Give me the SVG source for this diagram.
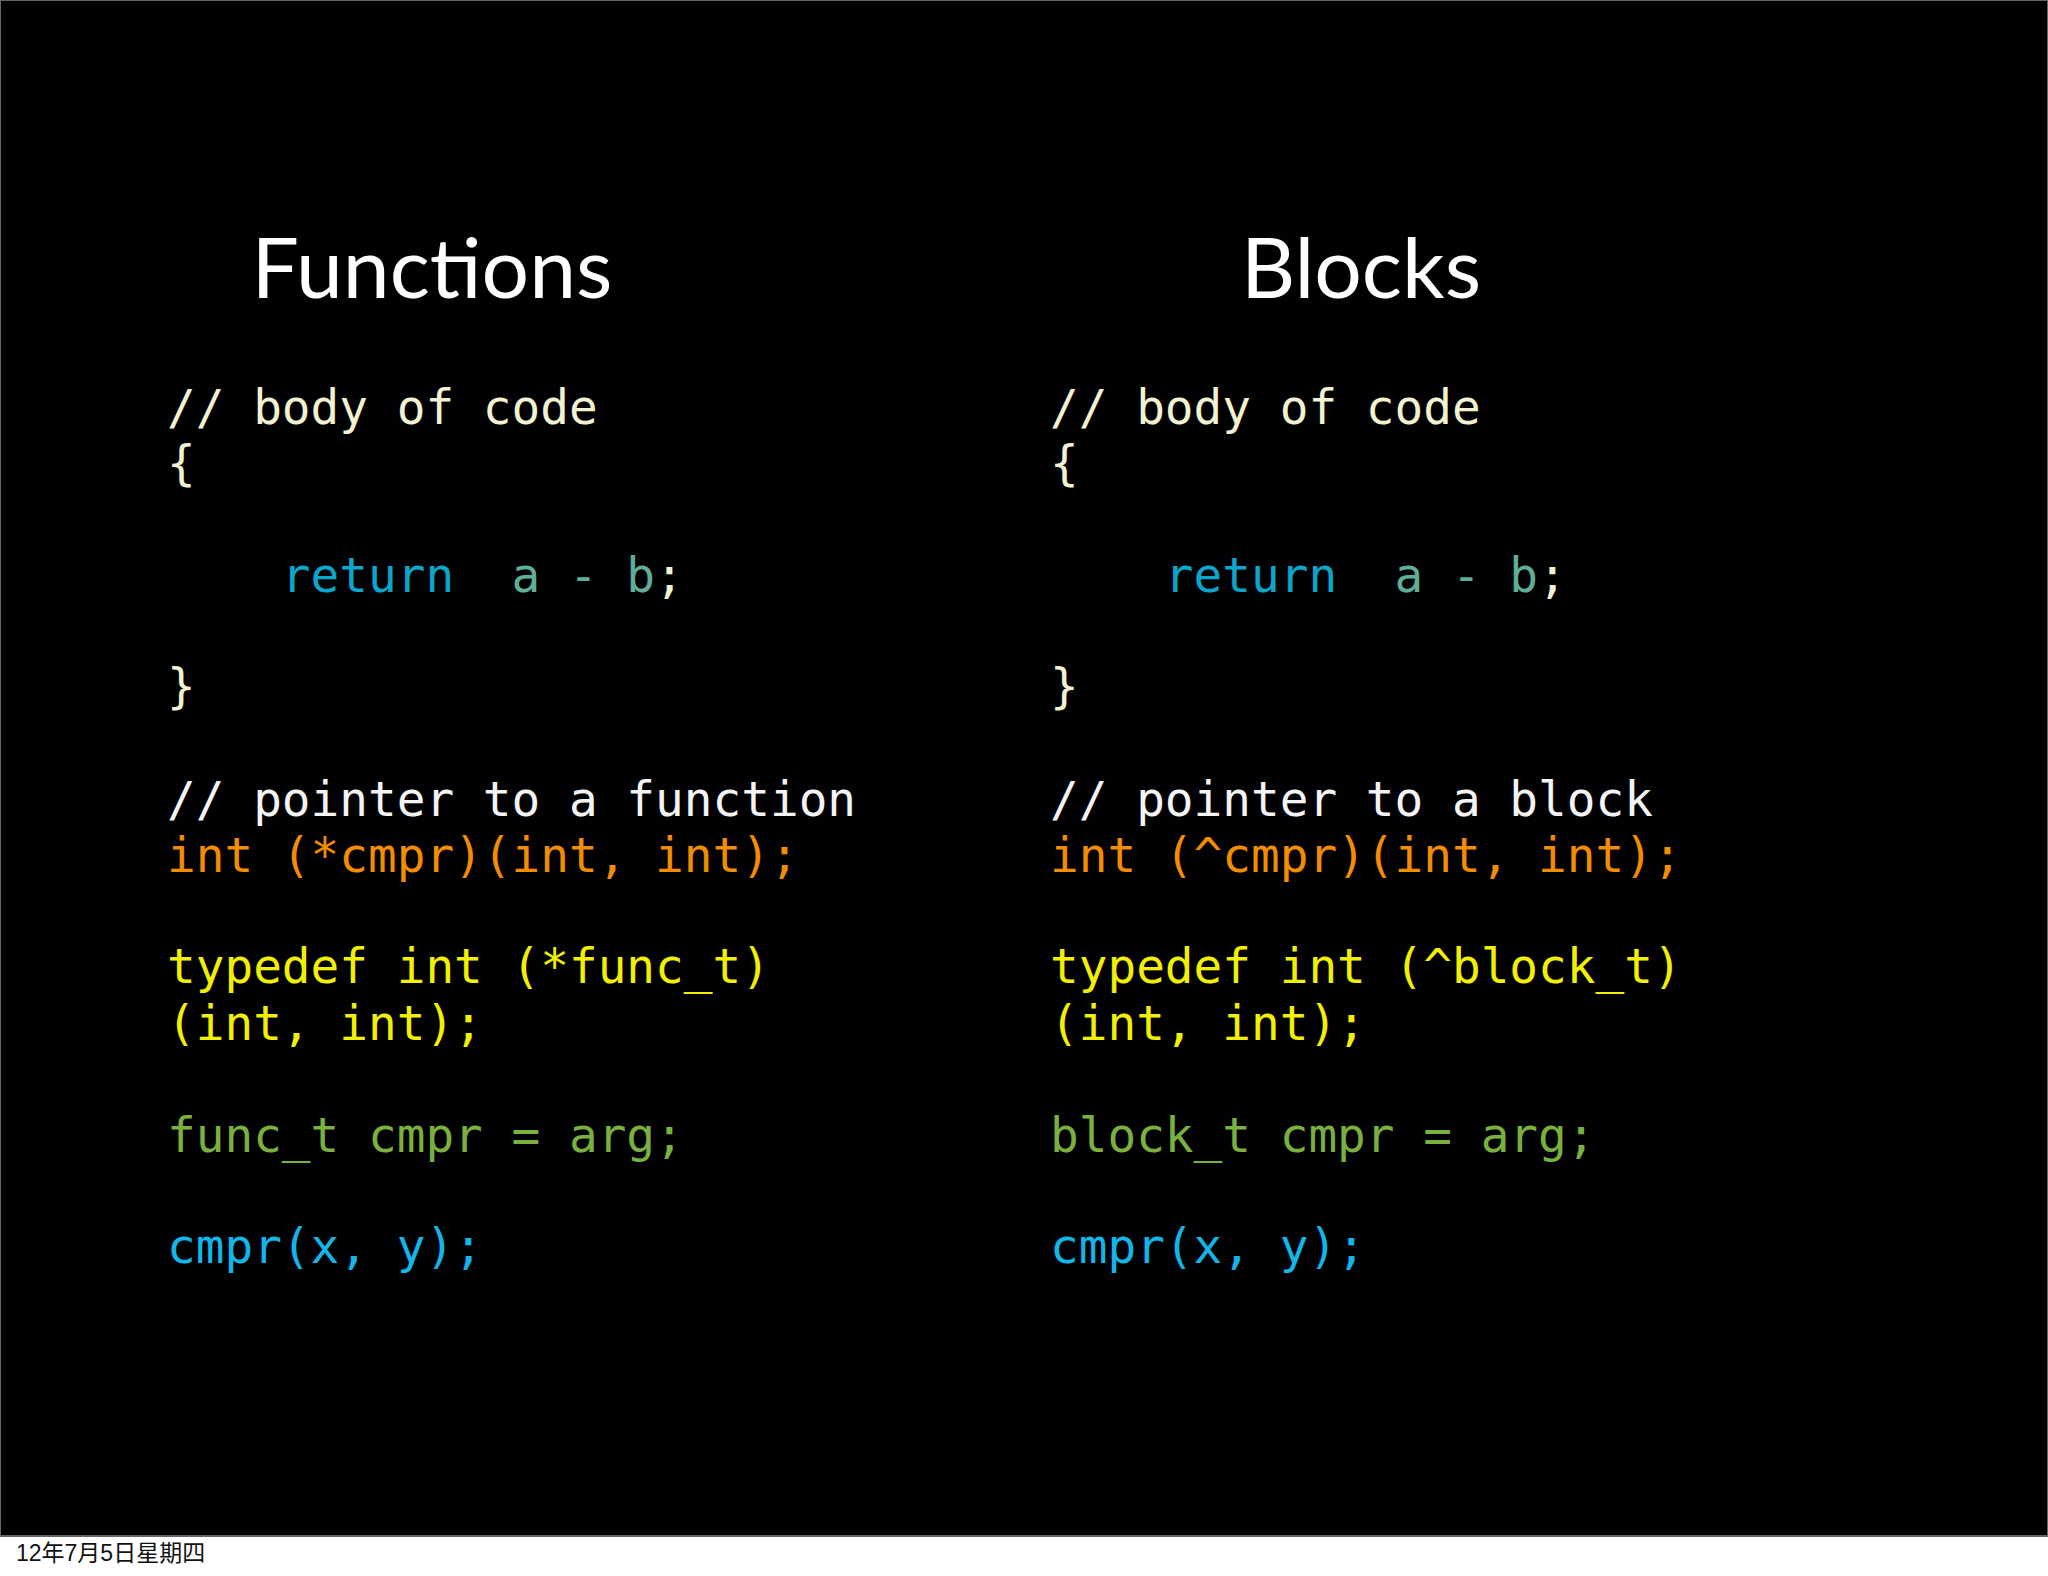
<svg xmlns="http://www.w3.org/2000/svg" width="2048" height="1576" viewBox="0 0 2048 1576">
<style>
.t{font-family:"Lato","Liberation Sans",sans-serif;font-size:84px;fill:#fff;text-anchor:middle}
.c{font-family:"DejaVu Sans Mono",monospace;font-size:47.7px;white-space:pre}
.cm{fill:#f2f2d0}.rt{fill:#0ba6cc}.ab{fill:#5fae98}.or{fill:#f28c00}.ye{fill:#f0f000}.gr{fill:#7ab03e}.cy{fill:#12b6e8}.wh{fill:#f4f4f4}
</style>
<rect width="2048" height="1576" fill="#fff"/>
<rect x="0" y="0" width="2048" height="1536" fill="#010103" stroke="#666" stroke-width="2"/>
<g id="functions">
<text class="t" x="432" y="298">Functions</text>
<text class="c cm" x="167" y="424">// body of code</text>
<text class="c cm" x="167" y="480">{</text>
<text class="c" x="167" y="592"><tspan class="rt">    return</tspan><tspan class="ab">  a - b</tspan><tspan class="cm">;</tspan></text>
<text class="c cm" x="167" y="703">}</text>
<text class="c wh" x="167" y="816">// pointer to a function</text>
<text class="c or" x="167" y="872">int (*cmpr)(int, int);</text>
<text class="c ye" x="167" y="983">typedef int (*func_t)</text>
<text class="c ye" x="167" y="1040">(int, int);</text>
<text class="c gr" x="167" y="1152">func_t cmpr = arg;</text>
<text class="c cy" x="167" y="1263">cmpr(x, y);</text>
</g>
<g id="blocks">
<text class="t" x="1361" y="298">Blocks</text>
<text class="c cm" x="1050" y="424">// body of code</text>
<text class="c cm" x="1050" y="480">{</text>
<text class="c" x="1050" y="592"><tspan class="rt">    return</tspan><tspan class="ab">  a - b</tspan><tspan class="cm">;</tspan></text>
<text class="c cm" x="1050" y="703">}</text>
<text class="c wh" x="1050" y="816">// pointer to a block</text>
<text class="c or" x="1050" y="872">int (^cmpr)(int, int);</text>
<text class="c ye" x="1050" y="983">typedef int (^block_t)</text>
<text class="c ye" x="1050" y="1040">(int, int);</text>
<text class="c gr" x="1050" y="1152">block_t cmpr = arg;</text>
<text class="c cy" x="1050" y="1263">cmpr(x, y);</text>
</g>
<text x="16" y="1561" font-family="'Liberation Sans','Noto Sans CJK SC',sans-serif" font-size="23" fill="#111">12年7月5日星期四</text>
</svg>
